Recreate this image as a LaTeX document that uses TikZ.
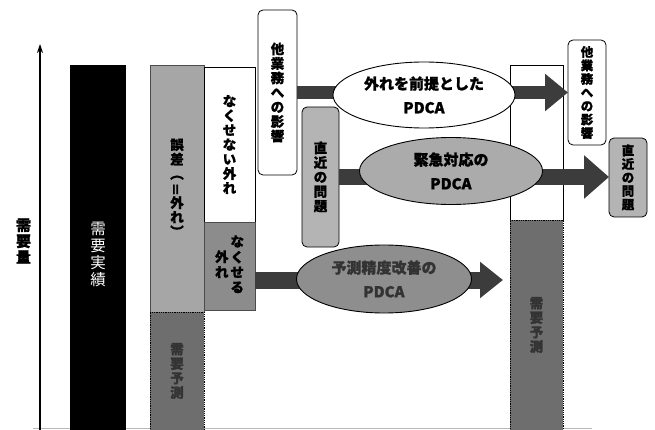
\documentclass[tikz,border=0pt]{standalone}
\usepackage{fontspec}
\usepackage{graphicx}
\newfontfamily\jp{Noto Sans CJK JP}[BoldFeatures={FakeBold=1}]
\usetikzlibrary{shapes.geometric,arrows.meta}
\definecolor{errgray}{HTML}{A6A6A6}
\definecolor{predgray}{HTML}{6E6E6E}
\definecolor{midgray}{HTML}{8C8C8C}
\definecolor{lightgray2}{HTML}{B4B4B4}
\definecolor{ellgrayA}{HTML}{ABABAB}
\definecolor{ellgrayB}{HTML}{8E8E8E}
\definecolor{arrowgray}{HTML}{3C3C3C}
\definecolor{basegray}{HTML}{B8B8B8}
\newcommand\vlp{\rotatebox[origin=c]{-90}{（}}
\newcommand\vrp{\rotatebox[origin=c]{-90}{）}}
\newcommand\veq{\rotatebox[origin=c]{90}{＝}}
\begin{document}
\begin{tikzpicture}[x=1pt,y=-1pt,
  vtext/.style={font=\jp\bfseries\fontsize{13.5}{14.5}\selectfont, align=center},
  boxnode/.style={inner sep=0pt, outer sep=0pt, align=center},
  rbox/.style={boxnode, draw=black, line width=0.8pt, rounded corners=5pt},
  bigarrow/.style={color=arrowgray},
  ell/.style={ellipse, draw=black, line width=0.9pt, inner sep=0pt, align=center,
    font=\jp\bfseries\fontsize{15}{24}\selectfont}
]
\useasboundingbox (0,0) rectangle (655,430);

% baseline and axis
\coordinate (bl) at (33,428.5);
\coordinate (br) at (592,428.5);
\draw[basegray, line width=1pt] (bl) -- (br);
\coordinate (axb) at (40,430);
\coordinate (axt) at (40,44);
\draw[line width=1.3pt, -{Stealth[length=9pt,width=6pt]}] (axb) -- (axt);
\node[vtext, font=\jp\bfseries\fontsize{15}{16}\selectfont] (qty) at (23.5,241) {需\\要\\量};

% actual demand bar
\node[boxnode, fill=black, minimum width=56pt, minimum height=365pt] (actual) at (98,247.5) {};
\node[text=white, align=center, font=\jp\fontsize{15.5}{17}\selectfont] (actualtxt) at (98,254) {需\\要\\実\\績};

% left stack
\node[boxnode, fill=errgray, draw=black!70, line width=0.5pt, minimum width=54pt, minimum height=247pt, vtext] (err) at (177,188.5)
  {誤\\差\\\vlp\\\veq\\外\\れ\\\vrp};
\node[boxnode, fill=predgray, draw=black, densely dotted, line width=0.8pt, minimum width=54pt, minimum height=118pt, vtext, text=black!80] (predL) at (177,371)
  {需\\要\\予\\測};
\node[boxnode, fill=white, draw=black, line width=0.6pt, minimum width=51pt, minimum height=155pt, vtext] (nakusenai) at (229.5,144.5)
  {な\\く\\せ\\な\\い\\外\\れ};
\node[boxnode, fill=midgray, draw=black!70, line width=0.5pt, minimum width=51pt, minimum height=88pt, vtext] (nakuseru) at (229.5,266)
  {\begin{tabular}[c]{@{}c@{}}外\\れ\end{tabular}\hspace{2pt}\begin{tabular}[c]{@{}c@{}}な\\く\\せ\\る\end{tabular}};

% right stack
\node[boxnode, fill=white, draw=black, line width=0.6pt, minimum width=53pt, minimum height=155pt] (rwhite) at (536.5,142.5) {};
\node[boxnode, fill=predgray, draw=black, densely dotted, line width=0.8pt, minimum width=53pt, minimum height=210pt, vtext, text=black!80] (predR) at (536.5,325)
  {需\\要\\予\\測};

% rounded boxes
\node[rbox, fill=white, minimum width=39pt, minimum height=165pt, vtext] (other1) at (277.5,92.5)
  {他\\業\\務\\へ\\の\\影\\響};
\node[rbox, fill=lightgray2, minimum width=37pt, minimum height=140pt, vtext] (recent1) at (320.5,177)
  {直\\近\\の\\問\\題};
\node[rbox, fill=white, minimum width=38pt, minimum height=105pt, vtext, font=\jp\bfseries\fontsize{12.5}{13.5}\selectfont] (other2) at (587,92.5)
  {他\\業\\務\\へ\\の\\影\\響};
\node[rbox, fill=lightgray2, minimum width=38pt, minimum height=79pt, vtext, font=\jp\bfseries\fontsize{12.5}{13.5}\selectfont] (recent2) at (628,177.5)
  {直\\近\\の\\問\\題};

% big arrows
\draw[bigarrow, line width=13pt, -{Triangle[length=23pt,width=36pt]}] (other1.east) -- (other1.east -| other2.west);
\draw[bigarrow, line width=16pt, -{Triangle[length=25pt,width=42pt]}] (recent1.east) -- (recent1.east -| recent2.west);
\coordinate (a3end) at (503,280);
\draw[bigarrow, line width=17pt, -{Triangle[length=23pt,width=35pt]}] (nakuseru.east |- a3end) -- (a3end);

% ellipses
\node[ell, fill=white, minimum width=182pt, minimum height=66pt] (e1) at (424,95) {外れを前提とした\\PDCA};
\node[ell, fill=ellgrayA, minimum width=183pt, minimum height=67pt] (e2) at (451,171) {緊急対応の\\PDCA};
\node[ell, fill=ellgrayB, minimum width=175pt, minimum height=68pt, text=black!80] (e3) at (384,279) {予測精度改善の\\PDCA};
\end{tikzpicture}
\end{document}
